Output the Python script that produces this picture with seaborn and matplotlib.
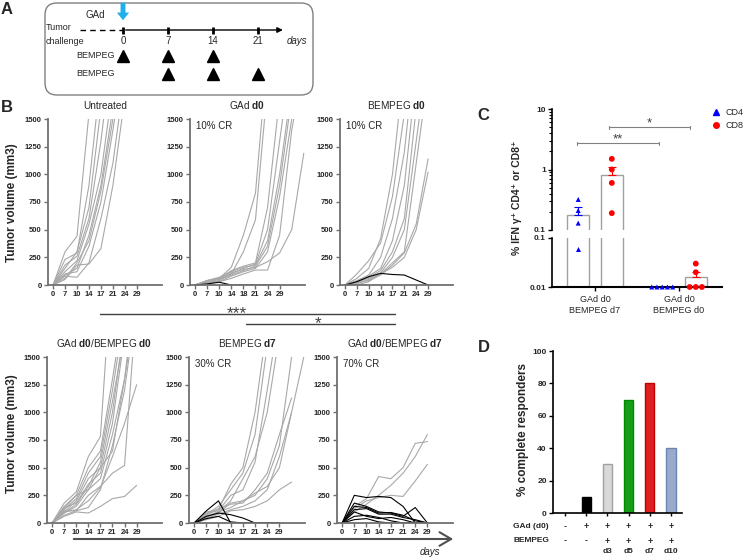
import numpy as np
import pandas as pd
import seaborn as sns
import matplotlib.pyplot as plt
import matplotlib.transforms as mtransforms
from matplotlib.patches import FancyBboxPatch
from matplotlib.lines import Line2D

sns.set_theme(style='ticks')
plt.rcParams['font.family'] = ['Liberation Sans', 'DejaVu Sans']
plt.rcParams['mathtext.fontset'] = 'custom'
plt.rcParams['mathtext.rm'] = 'Liberation Sans'
plt.rcParams['mathtext.bf'] = 'Liberation Sans:bold'
plt.rcParams['mathtext.it'] = 'Liberation Sans:italic'

# ---------------- data ----------------
# panel A schedule
timeline_days = [0, 7, 14, 21]
bempeg_sched_1 = [0, 7, 14]
bempeg_sched_2 = [7, 14, 21]

# panel B: tumour volumes at measurement index (0=d0, 1=d7, 2=d10 ...)
day_labels = ['0', '7', '10', '14', '17', '21', '24', '29']
day_labels_gad = ['0', '7', '10', '14', '18', '21', '24', '29']

untreated_vol = [
    [0, 300, 440, 1550, 2600],
    [0, 230, 290, 900, 1900],
    [0, 150, 300, 700, 1600],
    [0, 180, 260, 600, 1300, 2200],
    [0, 120, 220, 550, 1000, 1800],
    [0, 90, 150, 450, 900, 1600],
    [0, 60, 200, 400, 850, 1500, 2200],
    [0, 100, 120, 350, 750, 1400, 2100],
    [0, 80, 70, 200, 600, 1100, 1900],
    [0, 50, 180, 190, 330, 900, 1700],
]
gad_d0_vol = [
    [0, 40, 60, 160, 450, 830, 2100],
    [0, 30, 50, 100, 300, 590, 1800],
    [0, 30, 60, 130, 170, 200, 700, 1700],
    [0, 20, 40, 100, 150, 190, 500, 1300, 2100],
    [0, 40, 70, 120, 160, 180, 400, 1000, 1800],
    [0, 30, 50, 90, 130, 170, 350, 900, 1700],
    [0, 20, 30, 80, 120, 150, 300, 800, 1500],
    [0, 40, 60, 110, 140, 160, 210, 290, 500, 1190],
    [0, 10, 30, 60, 100, 135, 135, 450, 1400, 2000],
]
gad_d0_cr = [
    [0, 10, 25, 0, 0, 0, 0, 0],
]
bempeg_d0_vol = [
    [0, 60, 150, 420, 1000, 2000],
    [0, 100, 220, 380, 800, 1550],
    [0, 40, 90, 250, 600, 1200, 2200],
    [0, 30, 80, 150, 400, 900, 1900],
    [0, 20, 70, 130, 300, 600, 1600],
    [0, 30, 60, 110, 250, 500, 1300, 2100],
    [0, 10, 50, 100, 200, 300, 1100, 1900],
    [0, 20, 40, 90, 180, 290, 550, 1140],
    [0, 0, 30, 100, 160, 250, 500, 1020],
]
bempeg_d0_cr = [
    [0, 30, 75, 105, 95, 90, 45, 0],
]
combo_d0_vol = [
    [0, 180, 280, 600, 780, 2400],
    [0, 150, 250, 500, 650, 1300, 2000],
    [0, 120, 220, 450, 600, 1200, 1900],
    [0, 100, 200, 400, 500, 1000, 1800],
    [0, 140, 180, 350, 450, 900, 1700],
    [0, 90, 150, 300, 400, 800, 1300, 2000],
    [0, 60, 100, 90, 150, 220, 240, 340],
    [0, 70, 110, 250, 330, 450, 520, 2000],
    [0, 100, 120, 200, 320, 600, 900, 1250],
    [0, 130, 250, 300, 500, 650, 1300, 2200],
    [0, 90, 170, 330, 550, 1100, 1700],
    [0, 110, 110, 140, 300, 700, 1200, 2000],
]
bempeg_d7_vol = [
    [0, 100, 120, 350, 500, 1000, 1800],
    [0, 80, 150, 300, 450, 800, 1600],
    [0, 60, 100, 200, 400, 600, 1000, 1700],
    [0, 90, 110, 250, 300, 550, 1200, 1900],
    [0, 50, 90, 180, 200, 250, 400, 700, 1500],
    [0, 70, 130, 170, 180, 300, 450, 800, 1130],
    [0, 40, 80, 120, 150, 200, 300, 600, 1000, 1500],
    [0, 30, 60, 110, 120, 150, 200, 300, 370],
    [0, 60, 100, 140, 200, 270, 330, 500, 1000],
]
bempeg_d7_cr = [
    [0, 110, 200, 0, 0, 0, 0, 0],
    [0, 60, 90, 75, 45, 0, 0, 0],
    [0, 40, 60, 10, 0, 0, 0, 0],
]
combo_d7_vol = [
    [0, 150, 220, 420, 400, 500, 720, 735],
    [0, 100, 170, 250, 340, 450, 600, 800],
    [0, 130, 200, 230, 250, 240, 380, 530],
]
combo_d7_cr = [
    [0, 250, 230, 240, 230, 150, 0, 0],
    [0, 180, 150, 100, 90, 60, 140, 0],
    [0, 150, 140, 90, 95, 70, 20, 0],
    [0, 120, 130, 80, 80, 50, 30, 0],
    [0, 100, 60, 40, 50, 30, 0, 0],
    [0, 60, 70, 50, 20, 0, 0, 0],
    [0, 30, 40, 10, 0, 0, 0, 0],
]

# panel C
c_groups = ['GAd d0\nBEMPEG d7', 'GAd d0\nBEMPEG d0']
c_cells = ['CD4', 'CD8']
cd4_g1 = [0.32, 0.21, 0.13, 0.06]
cd8_g1 = [1.5, 1.0, 0.6, 0.19]
cd4_g2 = [0.01, 0.01, 0.01, 0.01, 0.01]
cd8_g2 = [0.03, 0.02, 0.01, 0.01, 0.01]

# panel D
d_cats = ['none', 'GAd', 'GAd+d3', 'GAd+d5', 'GAd+d7', 'GAd+d10']
d_values = [0, 10, 30, 70, 80, 40]
d_gad = ['-', '+', '+', '+', '+', '+']
d_bempeg = ['-', '-', '+', '+', '+', '+']
d_day = ['', '', 'd3', 'd5', 'd7', 'd10']
d_colors = ['white', 'black', '#d9d9d9', '#00b400', '#ff0000', '#8fa9d4']
d_edges = ['white', 'black', '#a0a0a0', '#008a00', '#c00000', '#6a86b5']

# ---------------- figure ----------------
W, H = 749, 559
fig = plt.figure(figsize=(W / 100, H / 100), dpi=100)


def px_axes(x0, y0, x1, y1):
    return fig.add_axes([x0 / W, 1 - y1 / H, (x1 - x0) / W, (y1 - y0) / H])


ov = fig.add_axes([0, 0, 1, 1])
ov.set_xlim(0, W)
ov.set_ylim(H, 0)
ov.axis('off')

for lab, x, y in [('A', 1, 9), ('B', 1, 107), ('C', 477, 116), ('D', 478, 347)]:
    ov.text(x, y, lab, fontsize=12, fontweight='bold', va='center', ha='left')

# ---- A ----
ov.add_patch(FancyBboxPatch((45, 3), 268, 92, boxstyle='round,pad=0,rounding_size=12',
                            fc='none', ec='#808080', lw=1))
ax_a = px_axes(45, 3, 313, 95)
ax_a.set_xlim(-12.13, 29.55)
ax_a.set_ylim(92, 0)
ax_a.axis('off')
ax_a.plot([-6.7, 0], [27, 27], ls=(0, (4, 3)), color='black', lw=1)
ax_a.annotate('', xy=(25.3, 27), xytext=(0, 27),
              arrowprops=dict(arrowstyle='-|>', color='black', lw=1, mutation_scale=8))
for d in timeline_days:
    ax_a.plot([d, d], [23.5, 30.5], color='black', lw=2, solid_capstyle='butt')
    ax_a.text(d, 38, str(d), ha='center', va='center', fontsize=7)
ax_a.annotate('', xy=(0, 20), xytext=(0, -3),
              arrowprops=dict(arrowstyle='simple,head_length=0.5,head_width=0.8,tail_width=0.32',
                              color='#1fb0ea', mutation_scale=11, lw=0))
ax_a.text(-5.9, 12, 'GAd', fontsize=7, va='center')
ax_a.text(-12.0, 24, 'Tumor', fontsize=6.5, va='center')
ax_a.text(-12.0, 38, 'challenge', fontsize=6.5, va='center')
ax_a.text(25.4, 38, 'days', fontsize=7, style='italic', va='center')
ax_a.text(-7.2, 53, 'BEMPEG', fontsize=6.5, va='center')
ax_a.text(-7.2, 71, 'BEMPEG', fontsize=6.5, va='center')
ax_a.plot(bempeg_sched_1, [53] * 3, ls='', marker='^', ms=8, color='black')
ax_a.plot(bempeg_sched_2, [71] * 3, ls='', marker='^', ms=8, color='black')


# ---- B ----
def mice_frame(grey, black):
    rows = []
    series = [(v, 'no') for v in grey] + [(v, 'yes') for v in black]
    for k, (vals, cr) in enumerate(series):
        for t, v in enumerate(vals):
            rows.append((k, t, v, cr))
    return pd.DataFrame(rows, columns=['mouse', 't', 'vol', 'cr'])


def growth_panel(box, grey, black, labels, title, cr_text=None):
    ax = px_axes(*box)
    df = mice_frame(grey, black)
    sns.lineplot(data=df, x='t', y='vol', units='mouse', estimator=None, hue='cr',
                 hue_order=['no', 'yes'], palette={'no': '#a8a8a8', 'yes': 'black'},
                 linewidth=0.8, legend=False, sort=False, ax=ax)
    ax.set_xlim(-0.42, 9.1)
    ax.set_ylim(0, 1500)
    ax.set_xticks(range(8))
    ax.set_xticklabels(labels)
    ax.set_yticks(range(0, 1501, 250))
    ax.set_xlabel('')
    ax.set_ylabel('')
    for s in ['top', 'right']:
        ax.spines[s].set_visible(False)
    for s in ['left', 'bottom']:
        ax.spines[s].set_color('#707070')
        ax.spines[s].set_linewidth(1.3)
    ax.tick_params(length=3, width=1, color='#707070', labelsize=5.5, pad=1.5)
    for t in ax.get_xticklabels() + ax.get_yticklabels():
        t.set_fontweight('bold')
    ax.set_title(title, fontsize=7.2, pad=7)
    if cr_text:
        ax.text(0.05, 0.99, cr_text, transform=ax.transAxes, fontsize=7, va='top')
    ax.patch.set_alpha(0)
    return ax


growth_panel((48, 119, 162, 285), untreated_vol, [], day_labels, 'Untreated')
growth_panel((190, 119, 305, 285), gad_d0_vol, gad_d0_cr, day_labels_gad,
             r'GAd $\mathbf{d0}$', '10% CR')
growth_panel((340, 119, 453, 285), bempeg_d0_vol, bempeg_d0_cr, day_labels,
             r'BEMPEG $\mathbf{d0}$', '10% CR')
growth_panel((47, 357, 162, 523), combo_d0_vol, [], day_labels,
             r'GAd $\mathbf{d0}$/BEMPEG $\mathbf{d0}$')
growth_panel((189, 357, 305, 523), bempeg_d7_vol, bempeg_d7_cr, day_labels,
             r'BEMPEG $\mathbf{d7}$', '30% CR')
growth_panel((337, 357, 453, 523), combo_d7_vol, combo_d7_cr, day_labels,
             r'GAd $\mathbf{d0}$/BEMPEG $\mathbf{d7}$', '70% CR')

ov.text(12, 203, 'Tumor volume (mm3)', rotation=90, fontsize=8.5, fontweight='bold',
        ha='center', va='center')
ov.text(12, 434, 'Tumor volume (mm3)', rotation=90, fontsize=8.5, fontweight='bold',
        ha='center', va='center')

ov.plot([100, 395], [314, 314], color='#404040', lw=1)
ov.text(237, 318, '***', ha='center', va='baseline', fontsize=12.5, color='#404040')
ov.plot([246, 395], [324, 324], color='#404040', lw=1)
ov.text(318, 328, '*', ha='center', va='baseline', fontsize=12.5, color='#404040')
ov.annotate('', xy=(456, 539), xytext=(71, 539),
            arrowprops=dict(arrowstyle='->,head_length=0.6,head_width=0.35',
                            color='#505050', lw=1.5, mutation_scale=14))
ov.text(430, 552, 'days', style='italic', fontsize=7, ha='center', va='center')

# ---- C ----
rows = []
for g, cd4, cd8 in [(c_groups[0], cd4_g1, cd8_g1), (c_groups[1], cd4_g2, cd8_g2)]:
    rows += [(g, 'CD4', v) for v in cd4] + [(g, 'CD8', v) for v in cd8]
df_c = pd.DataFrame(rows, columns=['group', 'cell', 'pct'])
stats = df_c.groupby(['group', 'cell'], sort=False)['pct'].agg(['mean', 'sem']).reset_index()

ax_ct = px_axes(552, 109, 722, 230)
ax_cb = px_axes(552, 238, 722, 287)
marker_pal = {'CD4': '#0000ff', 'CD8': '#ff0000'}
for ax, lo, hi in [(ax_ct, 0.1, 10), (ax_cb, 0.01, 0.1)]:
    sns.barplot(data=stats, x='group', y='mean', hue='cell', order=c_groups,
                hue_order=c_cells, palette={'CD4': 'white', 'CD8': 'white'},
                edgecolor='#a0a0a0', linewidth=1, gap=0.35, errorbar=None,
                legend=False, ax=ax)
    ax.set_yscale('log')
    ax.set_ylim(lo, hi)
    bars = sorted(ax.patches, key=lambda p: p.get_x())
    srt = stats.set_index(['group', 'cell']).loc[[(g, c) for g in c_groups for c in c_cells]]
    for p, (idx, r) in zip(bars, srt.iterrows()):
        ax.errorbar(p.get_x() + p.get_width() / 2, r['mean'], yerr=[[0], [r['sem']]],
                    fmt='none', ecolor=marker_pal[idx[1]], elinewidth=0.8,
                    capsize=3, capthick=0.8)
    sub = df_c[(df_c['pct'] >= lo) & (df_c['pct'] < hi)]
    n0 = len(ax.collections)
    for cell, mk, sz in [('CD4', '^', 3.6), ('CD8', 'o', 4.2)]:
        sns.swarmplot(data=sub[sub['cell'] == cell], x='group', y='pct', hue='cell',
                      order=c_groups, hue_order=c_cells, palette=marker_pal,
                      dodge=True, marker=mk, size=sz, linewidth=0, legend=False, ax=ax)
    if ax is ax_cb:
        for c in ax.collections[n0:]:
            c.set_clip_on(False)
    ax.set_xlim(-0.512, 1.512)
    ax.set_ylim(lo, hi)
    ax.set_xlabel('')
    ax.set_ylabel('')
    ax.patch.set_alpha(0)
    for s in ['top', 'right']:
        ax.spines[s].set_visible(False)
    ax.spines['left'].set_color('black')
    ax.spines['left'].set_linewidth(1.2)
    ax.tick_params(axis='y', which='major', length=3, width=1, color='black',
                   labelsize=6, pad=1.5)
    for t in ax.get_yticklabels():
        t.set_fontweight('bold')

ax_ct.spines['bottom'].set_visible(False)
ax_ct.tick_params(axis='x', bottom=False, labelbottom=False)
ax_ct.set_yticks([0.1, 1, 10])
ax_ct.set_yticklabels(['0.1', '1', '10'], fontweight='bold')
ax_ct.tick_params(axis='y', which='minor', length=2, width=0.8, color='black')
ax_cb.set_yticks([0.01, 0.1])
ax_cb.set_yticklabels(['0.01', '0.1'], fontweight='bold')
ax_cb.yaxis.set_minor_locator(plt.NullLocator())
ax_cb.spines['bottom'].set_color('black')
ax_cb.spines['bottom'].set_linewidth(1.5)
ax_cb.tick_params(axis='x', length=3, width=1, color='black', labelsize=6.5, pad=3)

ov.text(517, 198, '% IFN γ⁺ CD4⁺ or CD8⁺', rotation=90, fontsize=7.5,
        fontweight='bold', ha='center', va='center')
for x0, x1, y, star in [(577, 659, 143, '**'), (609, 690, 127, '*')]:
    ov.plot([x0, x1], [y, y], color='#808080', lw=0.8)
    ov.plot([x0, x0], [y - 1.5, y + 1.5], color='#808080', lw=0.8)
    ov.plot([x1, x1], [y - 1.5, y + 1.5], color='#808080', lw=0.8)
    ov.text((x0 + x1) / 2, y - 0.5, star, ha='center', va='baseline', fontsize=9.5,
            color='#404040')
fig.legend(handles=[Line2D([], [], marker='^', ls='', color='#0000ff', ms=4, label='CD4'),
                    Line2D([], [], marker='o', ls='', color='#ff0000', ms=4, label='CD8')],
           loc='upper left', bbox_to_anchor=(711 / W, 1 - 108 / H), frameon=False,
           fontsize=6.5, handletextpad=0.6, labelspacing=0.45, borderaxespad=0,
           borderpad=0, handlelength=1)

# ---- D ----
ax_d = px_axes(553, 351, 682, 513)
sns.barplot(x=d_cats, y=d_values, hue=d_cats, palette=dict(zip(d_cats, d_colors)),
            order=d_cats, hue_order=d_cats, width=0.43, legend=False, ax=ax_d)
for p, ec in zip(ax_d.patches, d_edges):
    p.set_edgecolor(ec)
    p.set_linewidth(1)
ax_d.set_xlim(-0.57, 5.52)
ax_d.set_ylim(0, 100)
ax_d.set_yticks(range(0, 101, 20))
ax_d.set_xticks(range(6))
ax_d.set_xticklabels([''] * 6)
ax_d.patch.set_alpha(0)
for s in ['top', 'right']:
    ax_d.spines[s].set_visible(False)
for s in ['left', 'bottom']:
    ax_d.spines[s].set_color('black')
    ax_d.spines[s].set_linewidth(1.2)
ax_d.tick_params(length=3, width=1, color='black', labelsize=6, pad=1.5)
ax_d.tick_params(axis='x', length=2)
for t in ax_d.get_yticklabels():
    t.set_fontweight('bold')
blend = mtransforms.blended_transform_factory(ax_d.transData, ax_d.transAxes)
for i, (a, b, c) in enumerate(zip(d_gad, d_bempeg, d_day)):
    ax_d.text(i, -0.086, a, transform=blend, ha='center', va='center', fontsize=6.5,
              fontweight='bold')
    ax_d.text(i, -0.173, b, transform=blend, ha='center', va='center', fontsize=6.5,
              fontweight='bold')
    ax_d.text(i, -0.235, c, transform=blend, ha='center', va='center', fontsize=6,
              fontweight='bold')
ov.text(513, 527, 'GAd (d0)', fontsize=6, fontweight='bold', va='center')
ov.text(513, 541, 'BEMPEG', fontsize=6, fontweight='bold', va='center')
ov.text(523, 430, '% complete responders', rotation=90, fontsize=8.5,
        fontweight='bold', ha='center', va='center')

fig.savefig('out.png', dpi=100)
